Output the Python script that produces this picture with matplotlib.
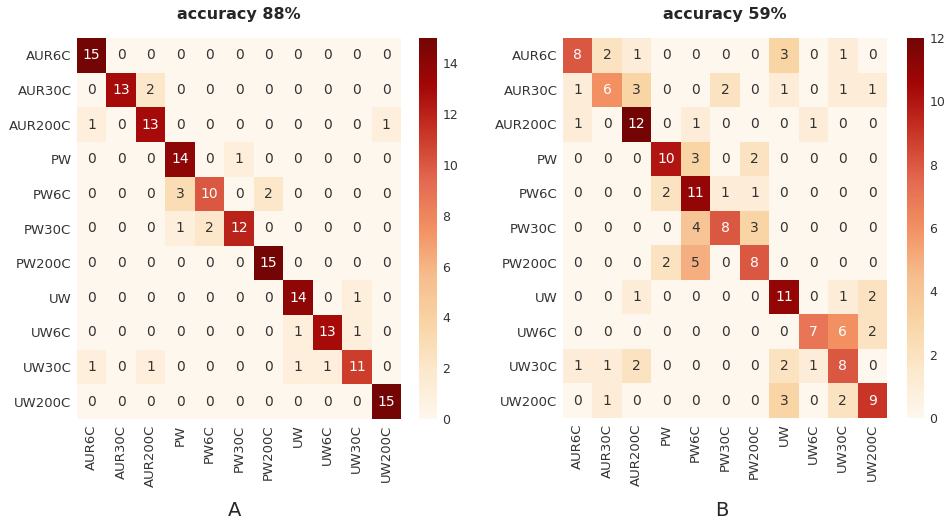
import numpy as np
import matplotlib
matplotlib.use("Agg")
import matplotlib.pyplot as plt
from matplotlib.colors import ListedColormap

labels = ["AUR6C", "AUR30C", "AUR200C", "PW", "PW6C", "PW30C", "PW200C",
          "UW", "UW6C", "UW30C", "UW200C"]

cm_a = [
    [15, 0, 0, 0, 0, 0, 0, 0, 0, 0, 0],
    [0, 13, 2, 0, 0, 0, 0, 0, 0, 0, 0],
    [1, 0, 13, 0, 0, 0, 0, 0, 0, 0, 1],
    [0, 0, 0, 14, 0, 1, 0, 0, 0, 0, 0],
    [0, 0, 0, 3, 10, 0, 2, 0, 0, 0, 0],
    [0, 0, 0, 1, 2, 12, 0, 0, 0, 0, 0],
    [0, 0, 0, 0, 0, 0, 15, 0, 0, 0, 0],
    [0, 0, 0, 0, 0, 0, 0, 14, 0, 1, 0],
    [0, 0, 0, 0, 0, 0, 0, 1, 13, 1, 0],
    [1, 0, 1, 0, 0, 0, 0, 1, 1, 11, 0],
    [0, 0, 0, 0, 0, 0, 0, 0, 0, 0, 15],
]

cm_b = [
    [8, 2, 1, 0, 0, 0, 0, 3, 0, 1, 0],
    [1, 6, 3, 0, 0, 2, 0, 1, 0, 1, 1],
    [1, 0, 12, 0, 1, 0, 0, 0, 1, 0, 0],
    [0, 0, 0, 10, 3, 0, 2, 0, 0, 0, 0],
    [0, 0, 0, 2, 11, 1, 1, 0, 0, 0, 0],
    [0, 0, 0, 0, 4, 8, 3, 0, 0, 0, 0],
    [0, 0, 0, 2, 5, 0, 8, 0, 0, 0, 0],
    [0, 0, 1, 0, 0, 0, 0, 11, 0, 1, 2],
    [0, 0, 0, 0, 0, 0, 0, 0, 7, 6, 2],
    [1, 1, 2, 0, 0, 0, 0, 2, 1, 8, 0],
    [0, 1, 0, 0, 0, 0, 0, 3, 0, 2, 9],
]

titles = ["accuracy 88%", "accuracy 59%"]
panel_letters = ["A", "B"]

W, H = 948, 523
fig = plt.figure(figsize=(W / 100, H / 100), dpi=100)
fig.patch.set_facecolor("white")

def frac(x0, y0, x1, y1):
    return [x0 / W, 1 - y1 / H, (x1 - x0) / W, (y1 - y0) / H]

panels = [
    dict(ax=(77, 38, 401, 419), cb=(419, 38, 437, 419), letter_x=235),
    dict(ax=(563, 38, 887, 418), cb=(907, 38, 924, 418), letter_x=722),
]

# OrRd, slightly muted to match the reference rendering
base = plt.get_cmap("OrRd")(np.linspace(0, 1, 256))
lum = (0.299 * base[:, 0] + 0.587 * base[:, 1] + 0.114 * base[:, 2])[:, None]
muted = base.copy()
muted[:, :3] = 0.88 * base[:, :3] + 0.12 * lum
cmap = ListedColormap(muted)

for data, title, letter, p in zip([cm_a, cm_b], titles, panel_letters, panels):
    arr = np.array(data)
    vmax = arr.max()
    ax = fig.add_axes(frac(*p["ax"]))
    mesh = ax.pcolormesh(arr, cmap=cmap, vmin=0, vmax=vmax)
    ax.set_xlim(0, arr.shape[1])
    ax.set_ylim(arr.shape[0], 0)
    for i in range(arr.shape[0]):
        for j in range(arr.shape[1]):
            v = arr[i, j]
            col = "white" if v / vmax > 0.45 else "#333333"
            ax.text(j + 0.5, i + 0.5, str(v), ha="center", va="center",
                    fontsize=10, color=col)
    ax.set_xticks(np.arange(len(labels)) + 0.5)
    ax.set_yticks(np.arange(len(labels)) + 0.5)
    ax.set_xticklabels(labels, rotation=90, fontsize=9.5, color="#333333")
    ax.set_yticklabels(labels, fontsize=9.5, color="#333333")
    ax.tick_params(length=0, pad=4)
    for s in ax.spines.values():
        s.set_visible(False)
    ax.set_title(title, fontsize=11.5, fontweight="bold", pad=14, color="#262626")

    cax = fig.add_axes(frac(*p["cb"]))
    cb = fig.colorbar(mesh, cax=cax)
    cb.outline.set_visible(False)
    cb.set_ticks(np.arange(0, vmax + 1, 2))
    cax.tick_params(length=0, labelsize=9, labelcolor="#333333", pad=4)

    fig.text(p["letter_x"] / W, 1 - 510 / H, letter, ha="center", va="center",
             fontsize=14, color="#262626")

fig.savefig("out.png", dpi=100)
